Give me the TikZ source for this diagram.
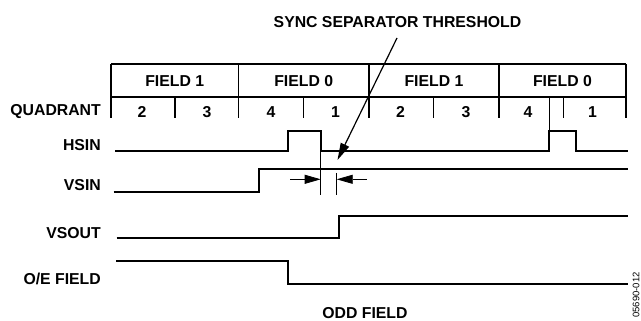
\documentclass[tikz,border=0pt]{standalone}
\usepackage{fontspec}
\setmainfont{Liberation Sans}
\usetikzlibrary{arrows.meta}
\begin{document}
\begin{tikzpicture}[x=1pt,y=-1pt,
  lbl/.style={font=\fontsize{15.8}{18}\selectfont\bfseries,inner sep=0pt},
  rlbl/.style={lbl,anchor=east},
  tbl/.style={line width=1.3pt},
  sig/.style={line width=2pt},
  thin/.style={line width=0.8pt},
  dimarrow/.style={line width=0.8pt,-{Triangle[length=16pt,width=9pt]}},
  ptr/.style={line width=1.2pt,-{Triangle[length=17pt,width=9pt]}}]
\useasboundingbox (0,0) rectangle (641,321);
% table
\draw[tbl] (111,64) -- (626,64);
\draw[tbl] (111,97) -- (626,97);
\foreach \x in {111,238.5,369,499,626} \draw[tbl] (\x,64) -- (\x,118);
\foreach \x in {175,303.3,433.3,563.3} \draw[tbl] (\x,97) -- (\x,118);
% field labels
\node[lbl] (f1a) at (174.75,81) {FIELD 1};
\node[lbl] (f0a) at (303.75,81) {FIELD 0};
\node[lbl] (f1b) at (434,81) {FIELD 1};
\node[lbl] (f0b) at (562.5,81) {FIELD 0};
% quadrant labels
\node[lbl] (q1) at (142,111.7) {2};
\node[lbl] (q2) at (207,111.7) {3};
\node[lbl] (q3) at (271,111.7) {4};
\node[lbl] (q4) at (335.5,111.7) {1};
\node[lbl] (q5) at (400.5,111.7) {2};
\node[lbl] (q6) at (466,111.7) {3};
\node[lbl] (q7) at (528,111.7) {4};
\node[lbl] (q8) at (592.5,111.7) {1};
% row labels
\node[rlbl] (quad) at (101,111.7) {QUADRANT};
\node[rlbl] (hsin) at (101,145) {HSIN};
\node[rlbl] (vsin) at (101,185) {VSIN};
\node[rlbl] (vsout) at (101,233.3) {VSOUT};
\node[rlbl] (oe) at (101,279.3) {O/E FIELD};
\node[lbl] (sync) at (397.5,22.3) {SYNC SEPARATOR THRESHOLD};
\node[lbl] (odd) at (365,313) {ODD FIELD};
\node[inner sep=0pt,rotate=90,font=\fontsize{9.5}{11}\selectfont] (fig) at (636,295) {05690-012};
% waveforms
\draw[sig] (115,151) -- (287.5,151) -- (287.5,131) -- (320.7,131) -- (320.7,151)
  -- (549.3,151) -- (549.3,131) -- (575.7,131) -- (575.7,151) -- (627.5,151);
\draw[sig] (113.5,192.3) -- (259.3,192.3) -- (259.3,169.3) -- (627.5,169.3);
\draw[sig] (116.7,237.7) -- (339.3,237.7) -- (339.3,215.5) -- (627.5,215.5);
\draw[sig] (116,261) -- (287.7,261) -- (287.7,284) -- (627.5,284);
% marker line from table to second HSIN pulse
\draw[thin] (549.3,97) -- (549.3,131);
% dimension lines
\coordinate (d1t) at (320.7,151);
\coordinate (d1b) at (320.7,195);
\coordinate (d2t) at (336.7,173);
\coordinate (d2b) at (336.7,195);
\draw[thin] (d1t) -- (d1b);
\draw[thin] (d2t) -- (d2b);
\coordinate (al) at (290,179.3);
\coordinate (ar) at (366.7,179.3);
\draw[dimarrow] (al) -- (d1t |- al);
\draw[dimarrow] (ar) -- (d2t |- ar);
% threshold pointer
\coordinate (ptop) at (397,38);
\coordinate (ptip) at (337.5,160);
\draw[ptr] (ptop) -- (ptip);
\end{tikzpicture}
\end{document}
